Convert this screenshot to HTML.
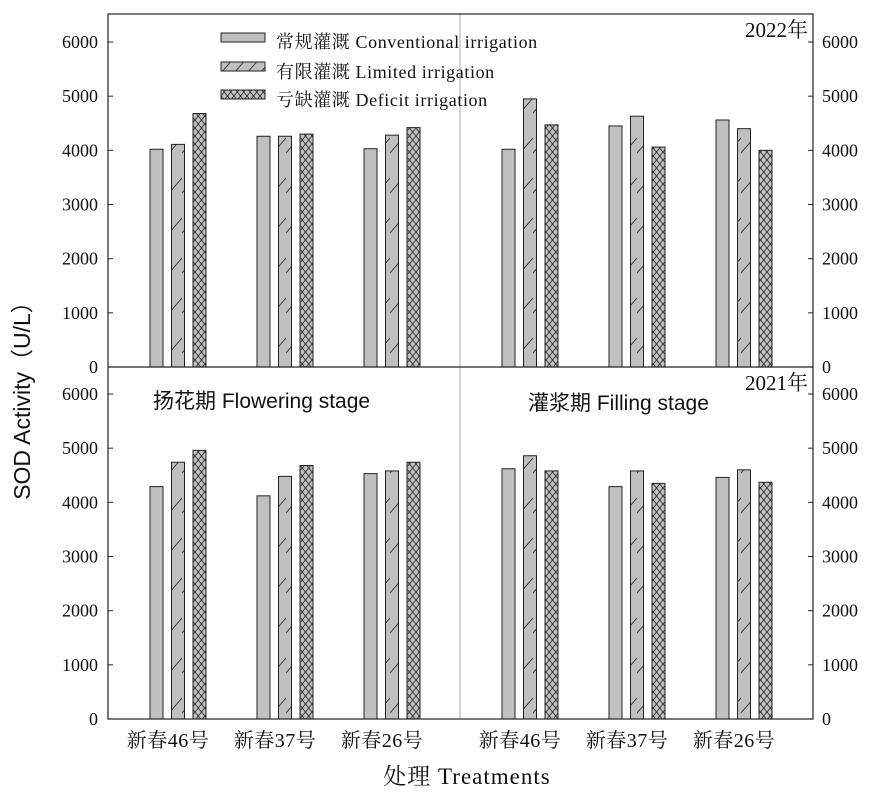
<!DOCTYPE html>
<html><head><meta charset="utf-8"><style>
html,body{margin:0;padding:0;background:#fff;}
text{font-family:"Liberation Serif","Noto Serif CJK SC",serif;fill:#111;}
.sans{font-family:"Liberation Sans","Noto Sans CJK SC",sans-serif;}
</style></head><body>
<svg id="chart" width="886" height="795" viewBox="0 0 886 795" xmlns="http://www.w3.org/2000/svg">
<defs>
<pattern id="pDiag" patternUnits="userSpaceOnUse" width="13" height="40">
<rect width="13" height="40" fill="#c0c0c0"/><line x1="0" y1="33" x2="13" y2="18" stroke="#222" stroke-width="0.9"/></pattern>
<pattern id="pCross" patternUnits="userSpaceOnUse" width="6.5" height="8">
<rect width="6.5" height="8" fill="#c0c0c0"/><path d="M0,0L6.5,8M6.5,0L0,8" stroke="#222" stroke-width="0.8"/></pattern>
</defs>
<g id="plot"></g>
</svg>
<script>
const categories=["新春46号","新春37号","新春26号","新春46号","新春37号","新春26号"];
const conv2022=[4020,4260,4030,4020,4450,4560];
const lim2022=[4110,4260,4280,4950,4630,4400];
const def2022=[4680,4300,4420,4470,4060,4000];
const conv2021=[4290,4120,4530,4620,4290,4460];
const lim2021=[4740,4480,4580,4860,4580,4600];
const def2021=[4960,4680,4740,4580,4350,4370];
const yTicks=[0,1000,2000,3000,4000,5000,6000];

const NS="http://www.w3.org/2000/svg";
const g=document.getElementById('plot');
const L=108,R=813,T=14,MID=367,B=719,DIV=460;
const centers=[178,285,392,530,637,744];
function yTop(v){return MID-v*325/6000;}
function yBot(v){return B-v*325/6000;}
function xBar(i,s){return centers[i]-28+s*21.5;}
function mk(tag,attrs,parent){const e=document.createElementNS(NS,tag);for(const k in attrs)e.setAttribute(k,attrs[k]);(parent||g).appendChild(e);return e;}
const fills=["#c0c0c0","url(#pDiag)","url(#pCross)"];
function drawBars(series,yf,tag){
  series.forEach((arr,s)=>{arr.forEach((v,i)=>{
    const y=yf(v),base=yf(0);
    const r=mk('rect',{x:xBar(i,s),y:y,width:13,height:base-y,fill:fills[s],stroke:'#222','stroke-width':1});
    
    
  });});
}
drawBars([conv2022,lim2022,def2022],yTop,'2022');
drawBars([conv2021,lim2021,def2021],yBot,'2021');
mk('line',{x1:DIV,y1:T,x2:DIV,y2:B,stroke:'#aaa','stroke-width':1});
mk('rect',{x:L,y:T,width:R-L,height:B-T,fill:'none',stroke:'#222','stroke-width':1.2});
mk('line',{x1:L,y1:MID,x2:R,y2:MID,stroke:'#222','stroke-width':1.2});
[yTop,yBot].forEach((yf,p)=>{yTicks.forEach(v=>{
  const y=yf(v);
  mk('line',{x1:L,y1:y,x2:L+5,y2:y,stroke:'#222'});
  mk('line',{x1:R,y1:y,x2:R-5,y2:y,stroke:'#222'});
  const t1=mk('text',{x:98,y:y+6,'text-anchor':'end','font-size':18});t1.textContent=v;
  
  
  const t2=mk('text',{x:822,y:y+6,'font-size':18});t2.textContent=v;
  
  
});});
categories.forEach((c,i)=>{
  const t=mk('text',{x:centers[i]-10,y:747,'text-anchor':'middle','font-size':20,'letter-spacing':'0.5'});t.textContent=c;
  
  
});
</script>
<svg style="position:absolute;left:0;top:0" width="886" height="795">
<g>
<rect x="221" y="33" width="44" height="9" fill="#c0c0c0" stroke="#222"/>
<text x="276" y="48" font-size="18" letter-spacing="0.6">常规灌溉 Conventional irrigation</text>
<rect x="221" y="62" width="44" height="9" fill="url(#pDiag)" stroke="#222"/>
<text x="276" y="78" font-size="18" letter-spacing="0.6">有限灌溉 Limited irrigation</text>
<rect x="221" y="90" width="44" height="9" fill="url(#pCross)" stroke="#222"/>
<text x="276" y="106" font-size="18" letter-spacing="0.6">亏缺灌溉 Deficit irrigation</text>
</g>
<text x="808" y="37" text-anchor="end" font-size="21">2022年</text>
<text x="808" y="390" text-anchor="end" font-size="21">2021年</text>
<text class="sans" x="153" y="408" font-size="21">扬花期  Flowering stage</text>
<text class="sans" x="528" y="410" font-size="21">灌浆期  Filling stage</text>
<text class="sans" transform="translate(30,395) rotate(-90)" text-anchor="middle" font-size="23">SOD Activity（U/L）</text>
<text x="467" y="784" text-anchor="middle" font-size="23" letter-spacing="1">处理 Treatments</text>
</svg>
</body></html>
